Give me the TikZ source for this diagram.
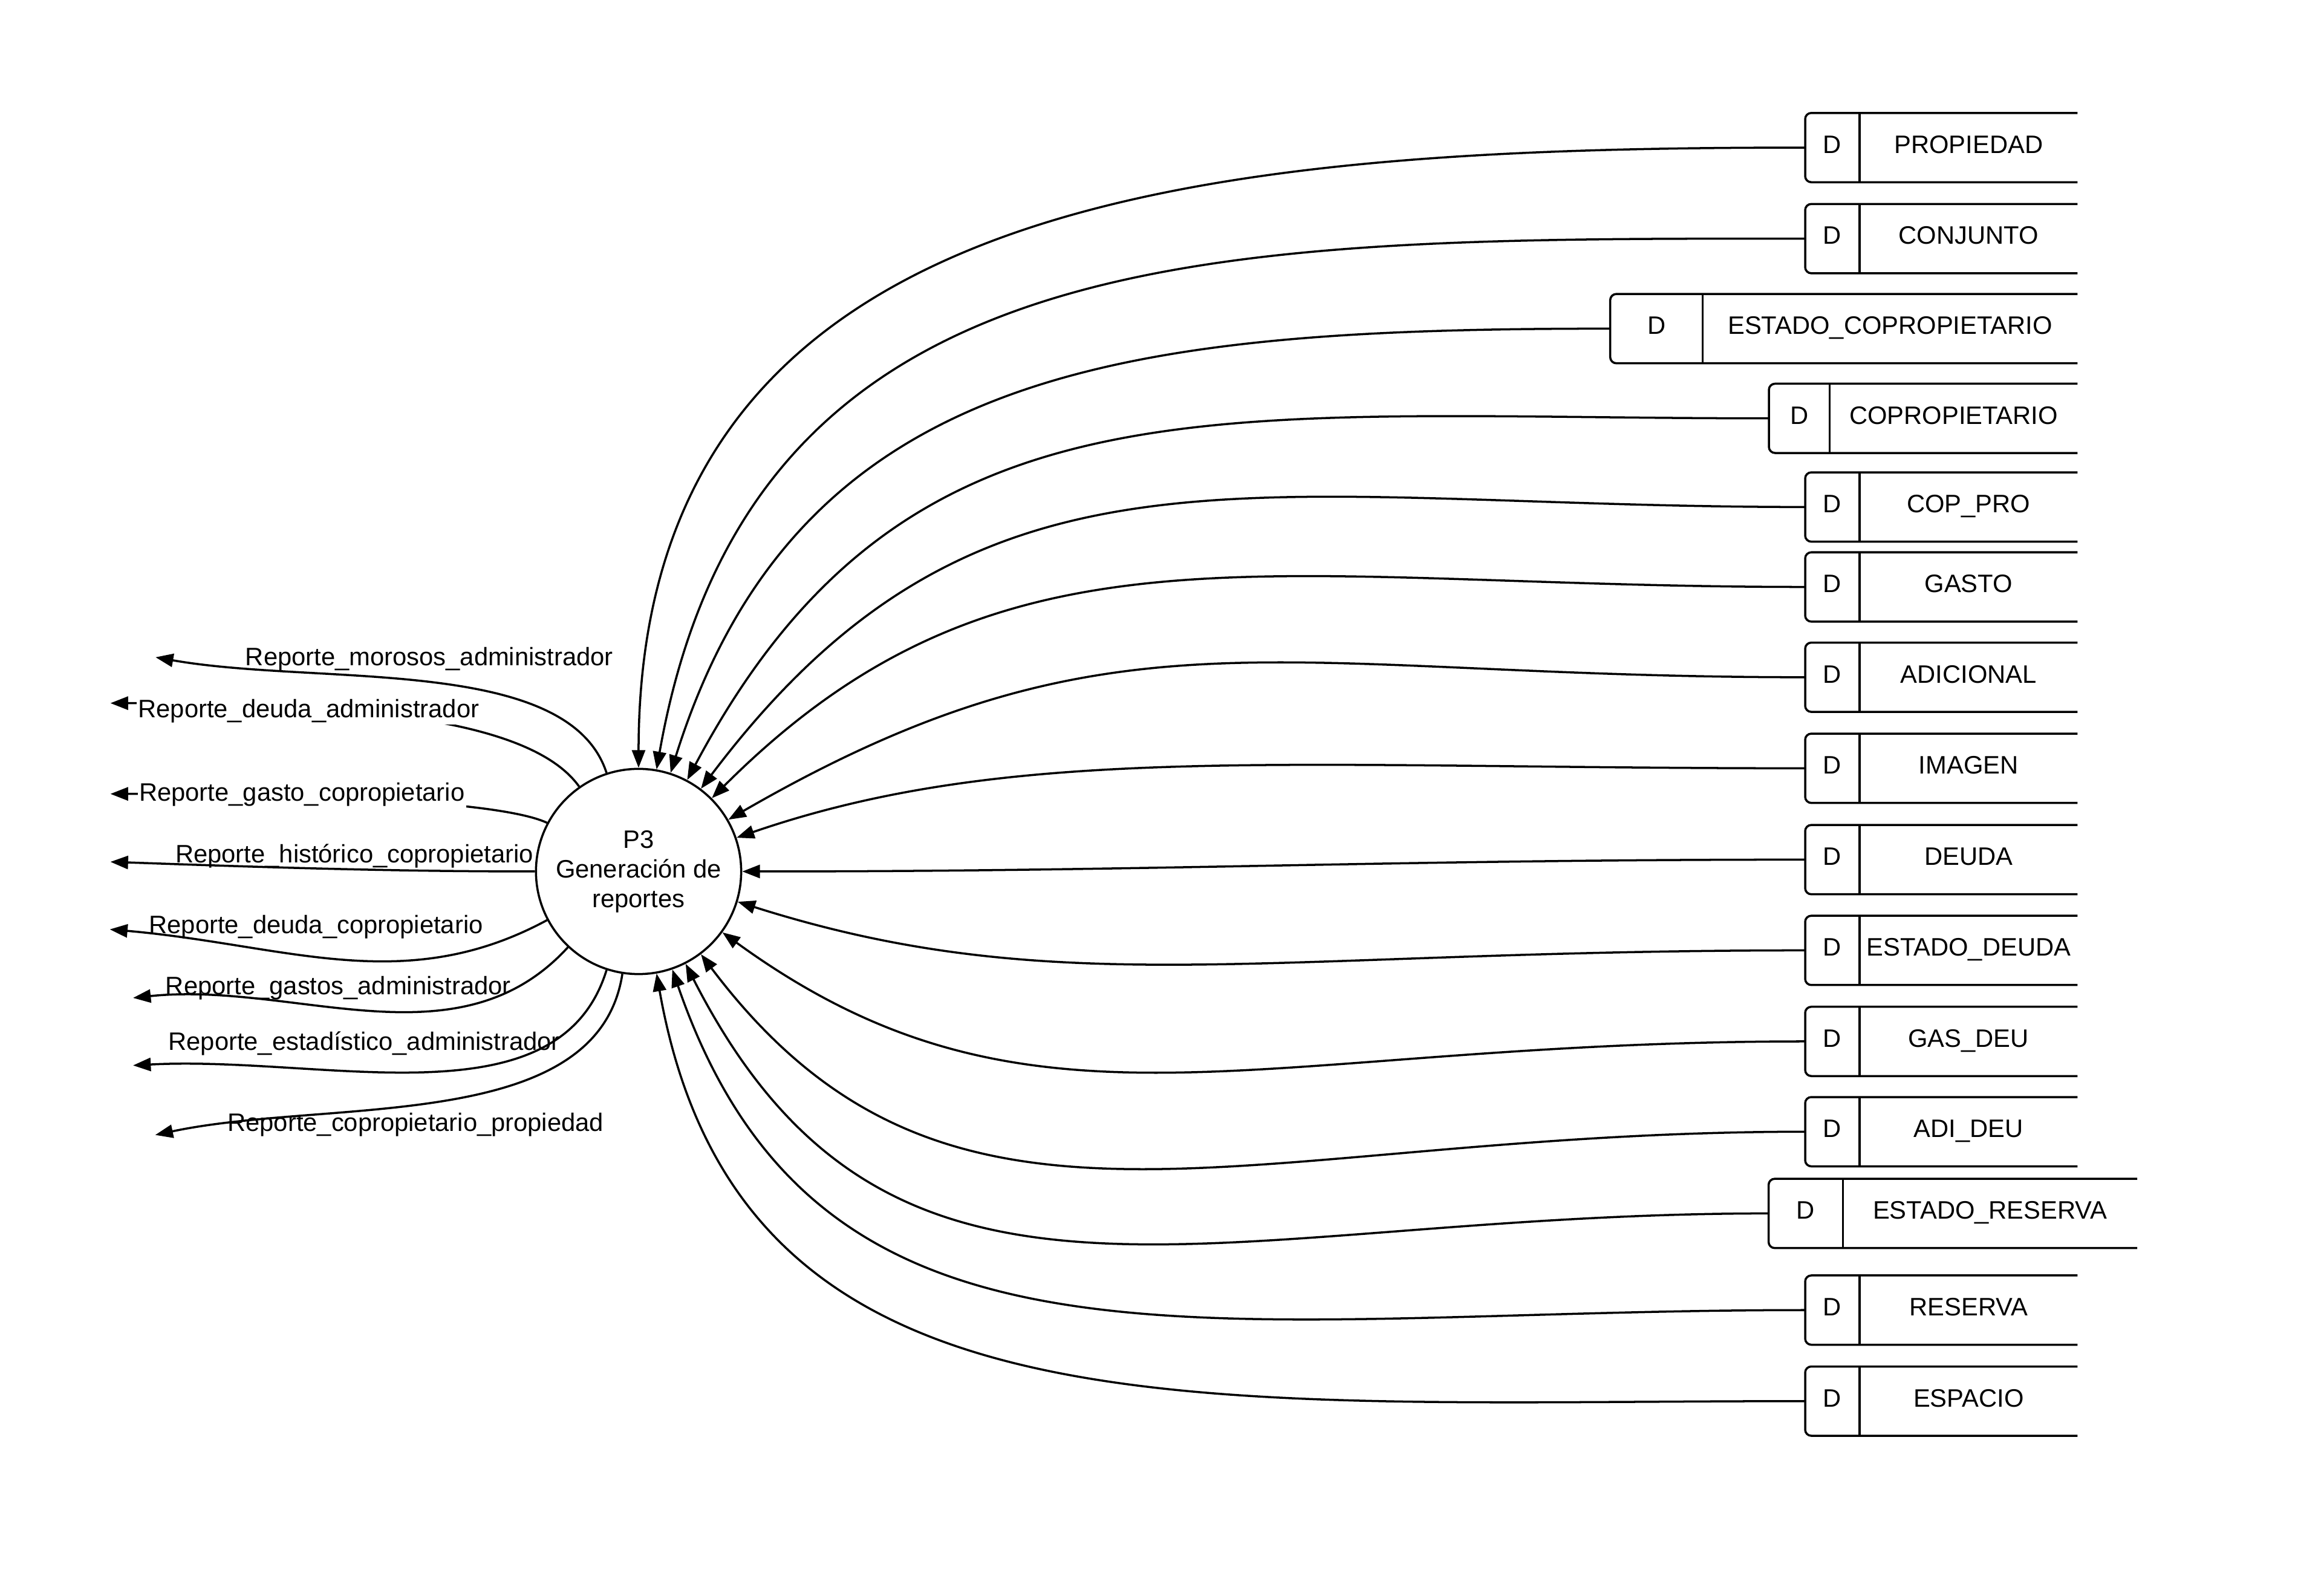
\documentclass[tikz,border=0pt]{standalone}
\usepackage{fontspec}
\setmainfont{Liberation Sans}
\usetikzlibrary{arrows.meta}

% almacen de datos: nombre, borde izq., division, borde der., y, texto
\newcommand{\almacen}[6]{%
  \draw[rounded corners=2.6pt] (#4,#5+23.4) -- (#2,#5+23.4) -- (#2,#5-23.4) -- (#4,#5-23.4);
  \draw (#3,#5+23.4) -- (#3,#5-23.4);
  \node[txt] (#1-d) at ({(#2+#3)/2},#5-3.8) {D};
  \node[txt] (#1) at ({(#3+#4)/2},#5-3.8) {#6};
  \coordinate (#1-in) at (#2,#5);
}

\begin{document}
\begin{tikzpicture}[x=0.6276pt, y=0.6276pt, line width=0.9pt,
    font=\fontsize{10.7}{12.6}\selectfont,
    txt/.style={anchor=base, inner sep=0pt},
    tapa/.style={txt, fill=white, inner sep=0.6pt},
    flujo/.style={-{Triangle[length=7.5pt,width=5.6pt]}},
    proceso/.style={circle, draw, minimum size=87pt, inner sep=0pt, align=center}]
		\useasboundingbox (0,0) rectangle (1568,-1078);
		\node[proceso] (p3) at (431.4,-588.7) {P3\\Generación de\\reportes};
		% almacenes
		\almacen{propiedad}{1219.5}{1256.3}{1403.5}{-99.7}{PROPIEDAD}
		\almacen{conjunto}{1219.5}{1256.3}{1403.5}{-161.2}{CONJUNTO}
		\almacen{estcop}{1087.8}{1150.3}{1403.5}{-222}{ESTADO\_COPROPIETARIO}
		\almacen{coprop}{1195}{1236.1}{1403.5}{-282.6}{COPROPIETARIO}
		\almacen{coppro}{1219.5}{1256.3}{1403.5}{-342.5}{COP\_PRO}
		\almacen{gasto}{1219.5}{1256.3}{1403.5}{-396.5}{GASTO}
		\almacen{adicional}{1219.5}{1256.3}{1403.5}{-457.5}{ADICIONAL}
		\almacen{imagen}{1219.5}{1256.3}{1403.5}{-519}{IMAGEN}
		\almacen{deuda}{1219.5}{1256.3}{1403.5}{-580.7}{DEUDA}
		\almacen{estdeuda}{1219.5}{1256.3}{1403.5}{-642}{ESTADO\_DEUDA}
		\almacen{gasdeu}{1219.5}{1256.3}{1403.5}{-703.5}{GAS\_DEU}
		\almacen{adideu}{1219.5}{1256.3}{1403.5}{-764.5}{ADI\_DEU}
		\almacen{estres}{1194.8}{1245}{1443.8}{-819.7}{ESTADO\_RESERVA}
		\almacen{reserva}{1219.5}{1256.3}{1403.5}{-885}{RESERVA}
		\almacen{espacio}{1219.5}{1256.3}{1403.5}{-946.5}{ESPACIO}
		% entradas al proceso
		\draw[flujo] (propiedad-in) to[out=180,in=90,out looseness=1.2,in looseness=1.1] (p3.90);
		\draw[flujo] (conjunto-in) to[out=180,in=80,out looseness=1.2,in looseness=1.1] (p3.80);
		\draw[flujo] (estcop-in) to[out=180,in=72.6,out looseness=1.2,in looseness=1.05] (p3.72.6);
		\draw[flujo] (coprop-in) to[out=180,in=62,out looseness=1.25,in looseness=1.05] (p3.62);
		\draw[flujo] (coppro-in) to[out=180,in=53,out looseness=1.25,in looseness=1.05] (p3.53);
		\draw[flujo] (gasto-in) to[out=180,in=45,out looseness=1.25,in looseness=0.95] (p3.45);
		\draw[flujo] (adicional-in) to[out=180,in=30,out looseness=1.25,in looseness=1.05] (p3.30);
		\draw[flujo] (imagen-in) to[out=180,in=19,out looseness=1.25,in looseness=0.7] (p3.19);
		\draw[flujo] (deuda-in) to[out=180,in=0] (p3.0);
		\draw[flujo] (estdeuda-in) to[out=180,in=-17.6,out looseness=1.3,in looseness=0.8] (p3.-17.6);
		\draw[flujo] (gasdeu-in) to[out=180,in=-36,out looseness=1.3,in looseness=0.9] (p3.-36);
		\draw[flujo] (adideu-in) to[out=180,in=-53,out looseness=1.3,in looseness=0.95] (p3.-53);
		\draw[flujo] (estres-in) to[out=180,in=-63,out looseness=1.3,in looseness=1.05] (p3.-63);
		\draw[flujo] (reserva-in) to[out=180,in=-71,out looseness=1.3,in looseness=1.0] (p3.-71);
		\draw[flujo] (espacio-in) to[out=180,in=-80,out looseness=1.3,in looseness=1.0] (p3.-80);
		% salidas
		\coordinate (t-morosos) at (105.1,-444);
		\coordinate (t-deudaadm) at (74.6,-475);
		\coordinate (t-gastocop) at (74.6,-536.3);
		\coordinate (t-historico) at (74.6,-582.2);
		\coordinate (t-deudacop) at (74.2,-627.8);
		\coordinate (t-gastosadm) at (89.9,-674.1);
		\coordinate (t-estadistico) at (89.9,-719.7);
		\coordinate (t-copprop) at (104.9,-766.7);
		\draw[flujo] (p3.108) .. controls +(108:84) and +(-10:112) .. (t-morosos);
		\draw[flujo] (p3.125.5) .. controls +(125.5:60) and +(0:150) .. (t-deudaadm);
		\draw[flujo] (p3.152.5) .. controls +(155:40) and +(0:100) .. (t-gastocop);
		\draw[flujo] (p3.180) .. controls +(180:100) and +(-2:100) .. (t-historico);
		\draw[flujo] (p3.208.4) .. controls +(208.4:110) and +(-5:120) .. (t-deudacop);
		\draw[flujo] (p3.227.6) .. controls +(227.6:110) and +(6:110) .. (t-gastosadm);
		\draw[flujo] (p3.252.9) .. controls +(252.9:110) and +(3:130) .. (t-estadistico);
		\draw[flujo] (p3.261.3) .. controls +(261.3:110) and +(12:120) .. (t-copprop);
		\node[txt] (l-morosos) at (290,-449.4) {Reporte\_morosos\_administrador};
		\node[tapa] (l-deudaadm) at (208.5,-484.8) {Reporte\_deuda\_administrador};
		\node[tapa] (l-gastocop) at (204,-541.3) {Reporte\_gasto\_copropietario};
		\node[txt] (l-historico) at (239.4,-582.9) {Reporte\_histórico\_copropietario};
		\node[txt] (l-deudacop) at (213.5,-630.5) {Reporte\_deuda\_copropietario};
		\node[txt] (l-gastosadm) at (228.5,-672) {Reporte\_gastos\_administrador};
		\node[txt] (l-estadistico) at (246,-709.5) {Reporte\_estadístico\_administrador};
		\node[txt] (l-copprop) at (280.8,-764) {Reporte\_copropietario\_propiedad};
\end{tikzpicture}
\end{document}
